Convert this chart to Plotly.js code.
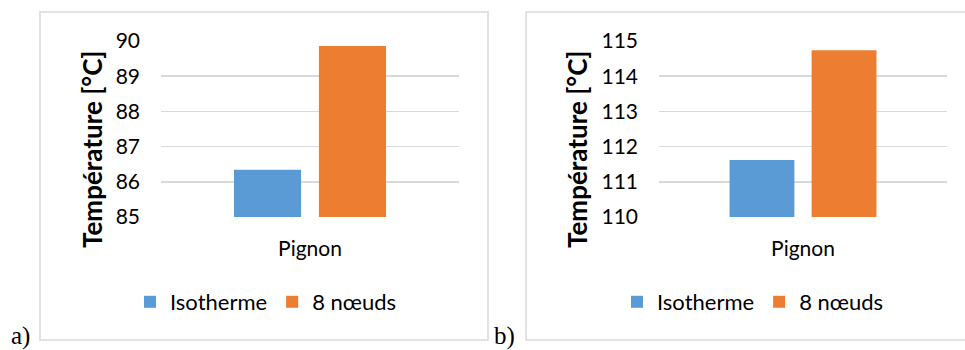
<!DOCTYPE html>
<html>
<head>
<meta charset="utf-8">
<script src="https://cdn.plot.ly/plotly-3.0.1.min.js"></script>
<style>html,body{margin:0;padding:0;background:#fff;}#chart{width:965px;height:350px;}</style>
</head>
<body>
<div id="chart"></div>
<script>
const categories = ["Pignon"];
const seriesNames = ["Isotherme", "8 nœuds"];
const valuesA_iso = [86.34];
const valuesA_8n = [89.86];
const valuesB_iso = [111.62];
const valuesB_8n = [114.74];
const ticksA = [85, 86, 87, 88, 89, 90];
const ticksB = [110, 111, 112, 113, 114, 115];
const panelLabels = ["a)", "b)"];
const yTitle = "Température [°C]";

const W = 965, H = 350;
const px = v => v / W;
const py = v => 1 - v / H;
const blue = "#5b9bd5", orange = "#ed7d31", grid = "#d9d9d9";
const font = "Lato, 'Open Sans', sans-serif";

const traces = [
  {type: "bar", x: categories, y: valuesA_iso, name: seriesNames[0], marker: {color: blue}, xaxis: "x", yaxis: "y", legend: "legend"},
  {type: "bar", x: categories, y: valuesA_8n, name: seriesNames[1], marker: {color: orange}, xaxis: "x", yaxis: "y", legend: "legend"},
  {type: "bar", x: categories, y: valuesB_iso, name: seriesNames[0], marker: {color: blue}, xaxis: "x2", yaxis: "y2", legend: "legend2"},
  {type: "bar", x: categories, y: valuesB_8n, name: seriesNames[1], marker: {color: orange}, xaxis: "x2", yaxis: "y2", legend: "legend2"}
];

const yCommon = {
  showline: false, zeroline: false, gridcolor: grid, gridwidth: 1.5,
  tickfont: {family: font, size: 21, color: "#000"}, ticks: "", ticklabelstandoff: 20,
  fixedrange: true
};
const xCommon = {
  showline: false, zeroline: false, showgrid: false, ticks: "",
  tickfont: {family: font, size: 21, color: "#000"}, ticklabelstandoff: 17
};
const legendCommon = {orientation: "h", yanchor: "middle", font: {family: font, size: 22, color: "#000"},
  bgcolor: "rgba(0,0,0,0)", itemwidth: 30, tracegroupgap: 0};
const titleFont = {family: font, size: 26, color: "#000", weight: "bold"};
const labelFont = {family: "'Liberation Serif', 'DejaVu Serif', serif", size: 25, color: "#000"};

const layout = {
  width: W, height: H,
  margin: {l: 0, r: 0, t: 0, b: 0},
  paper_bgcolor: "#fff", plot_bgcolor: "#fff",
  barmode: "group", bargap: 0.43, bargroupgap: 0.21,
  showlegend: true,
  xaxis: Object.assign({}, xCommon, {domain: [px(161), px(459)], anchor: "y"}),
  yaxis: Object.assign({}, yCommon, {domain: [py(217), py(41)], range: [ticksA[0], ticksA[ticksA.length-1]], tickvals: ticksA, anchor: "x"}),
  xaxis2: Object.assign({}, xCommon, {domain: [px(659), px(947)], anchor: "y2"}),
  yaxis2: Object.assign({}, yCommon, {domain: [py(217), py(41)], range: [ticksB[0], ticksB[ticksB.length-1]], tickvals: ticksB, anchor: "x2"}),
  legend: Object.assign({}, legendCommon, {x: px(266), xanchor: "center", y: py(302)}),
  legend2: Object.assign({}, legendCommon, {x: px(753), xanchor: "center", y: py(302)}),
  shapes: [
    {type: "rect", xref: "paper", yref: "paper", x0: px(40), x1: px(488), y0: py(340), y1: py(12), line: {color: grid, width: 1.5}},
    {type: "rect", xref: "paper", yref: "paper", x0: px(526), x1: px(975), y0: py(340), y1: py(12), line: {color: grid, width: 1.5}}
  ],
  annotations: [
    {text: yTitle, xref: "paper", yref: "paper", x: px(92), y: py(150), xanchor: "center", yanchor: "middle", textangle: -90, showarrow: false, font: titleFont},
    {text: yTitle, xref: "paper", yref: "paper", x: px(577), y: py(150), xanchor: "center", yanchor: "middle", textangle: -90, showarrow: false, font: titleFont},
    {text: panelLabels[0], xref: "paper", yref: "paper", x: px(9), y: py(336), xanchor: "left", yanchor: "middle", showarrow: false, font: labelFont},
    {text: panelLabels[1], xref: "paper", yref: "paper", x: px(492), y: py(336), xanchor: "left", yanchor: "middle", showarrow: false, font: labelFont}
  ]
};

Plotly.newPlot("chart", traces, layout, {displayModeBar: false, staticPlot: true});
</script>
</body>
</html>
